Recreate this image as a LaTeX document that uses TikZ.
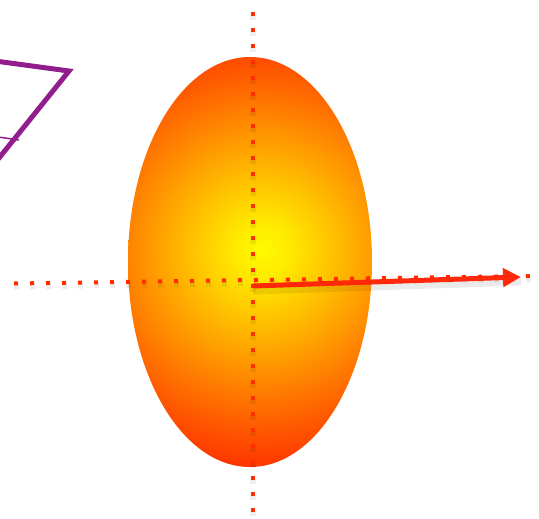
\documentclass[tikz,border=0pt]{standalone}
\usetikzlibrary{arrows.meta}
\definecolor{dotred}{RGB}{255,45,0}
\definecolor{arrred}{RGB}{255,40,10}
\definecolor{purp}{RGB}{145,30,140}
\pgfdeclareradialshading{ballshade}{\pgfpoint{0bp}{0bp}}{%
  color(0bp)=(rgb,255:red,255;green,250;blue,0);
  color(2.7bp)=(rgb,255:red,255;green,235;blue,0);
  color(7.2bp)=(rgb,255:red,255;green,195;blue,0);
  color(12.6bp)=(rgb,255:red,255;green,145;blue,0);
  color(18bp)=(rgb,255:red,255;green,95;blue,0);
  color(22.5bp)=(rgb,255:red,255;green,55;blue,0);
  color(50bp)=(rgb,255:red,255;green,50;blue,0)}
\tikzset{
  dotline/.style={dotred, line width=4pt, line cap=butt, dash pattern=on 4pt off 12pt},
  dotshadow/.style={black, opacity=0.07, line width=6pt, line cap=butt, dash pattern=on 5pt off 11pt},
  purpline/.style={purp, line width=5pt, line join=miter},
  bigarrow/.style={arrred, line width=5pt, -{Triangle[length=18pt,width=18pt]}},
}
\begin{document}
\begin{tikzpicture}[x=1pt,y=-1pt]
\useasboundingbox (0,0) rectangle (539,519);
\coordinate (c) at (250,262);
\coordinate (hot) at (262,250);
\coordinate (vtop) at (253,12);
\coordinate (vbot) at (253,516);
\coordinate (hl) at (14,283.5);
\coordinate (hr) at (532,276);
\coordinate (as) at (253,286);
\coordinate (ae) at (521,277);
\coordinate (p1) at (-5,61);
\coordinate (p2) at (69,71);
\coordinate (p3) at (-5,163);
\coordinate (q1) at (-2,137);
\coordinate (q2) at (19,140);
% ball
\begin{scope}
  \clip (c) ellipse [x radius=122, y radius=205];
  \shade[shading=ballshade] (hot) circle [radius=239];
\end{scope}
% purple shape
\draw[purpline] (p1) -- (p2) -- (p3);
\draw[purp, line width=1.5pt] (q1) -- (q2);
% shadows
\draw[dotshadow, transform canvas={shift={(0pt,-3pt)}}] (vtop) -- (vbot);
\draw[dotshadow, transform canvas={shift={(0pt,-3pt)}}] (hl) -- (hr);
\draw[black, opacity=0.08, line width=9pt, transform canvas={shift={(0pt,-4pt)}}] (as) -- (ae);
% dotted axes
\draw[dotline] (vtop) -- (vbot);
\draw[dotline] (hl) -- (hr);
% arrow
\draw[bigarrow] (as) -- (ae);
\end{tikzpicture}
\end{document}
